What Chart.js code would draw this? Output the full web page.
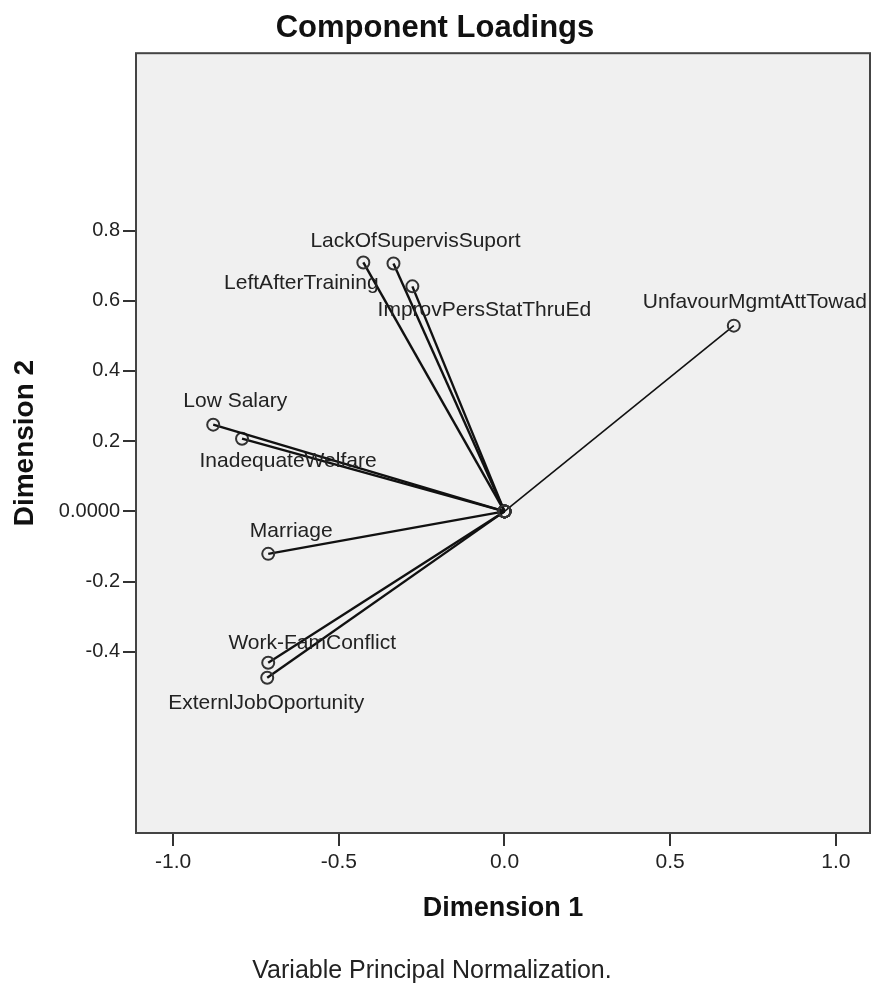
<!DOCTYPE html>
<html>
<head>
<meta charset="utf-8">
<script src="https://cdn.jsdelivr.net/npm/chart.js@4.4.0/dist/chart.umd.min.js"></script>
<style>
    html, body { margin: 0; padding: 0; background: #fff; }
    #wrap { width: 872px; height: 987px; }
</style>
</head>
<body>
<div id="wrap"><canvas id="loadingsChart" width="872" height="987"></canvas></div>
<script>
// Component loadings
const variables = [
    'LeftAfterTraining',
    'LackOfSupervisSuport',
    'ImprovPersStatThruEd',
    'UnfavourMgmtAttTowad',
    'Low Salary',
    'InadequateWelfare',
    'Marriage',
    'Work-FamConflict',
    'ExternlJobOportunity'
];
const dimension1 = [-0.426, -0.335, -0.278, 0.692, -0.879, -0.792, -0.713, -0.713, -0.716];
const dimension2 = [0.709, 0.706, 0.641, 0.529, 0.247, 0.207, -0.121, -0.431, -0.474];

const xTicks = [-1.0, -0.5, 0.0, 0.5, 1.0];
const xTickLabels = ['-1.0', '-0.5', '0.0', '0.5', '1.0'];
const yTicks = [-0.4, -0.2, 0.0, 0.2, 0.4, 0.6, 0.8];
const yTickLabels = ['-0.4', '-0.2', '0.0000', '0.2', '0.4', '0.6', '0.8'];

// where each variable name sits, in pixels from its point (label centre)
const labelOffsets = [
    [-62, 21],
    [22, -22],
    [72, 24],
    [21, -23],
    [22, -23],
    [46, 22],
    [23, -23],
    [44, -20],
    [-1, 25]
];

const FONT = "'Liberation Sans', Arial, sans-serif";

const datasets = variables.map((name, i) => ({
    label: name,
    data: [{ x: 0, y: 0 }, { x: dimension1[i], y: dimension2[i] }],
    showLine: true,
    borderColor: '#111',
    borderWidth: name === 'UnfavourMgmtAttTowad' ? 1.6 : 2.4,
    pointRadius: 6,
    pointHoverRadius: 6,
    pointBorderWidth: 2,
    pointBorderColor: '#333',
    pointBackgroundColor: 'rgba(0,0,0,0)'
}));

const plotFrame = {
    id: 'plotFrame',
    beforeDraw(chart) {
        const { ctx, chartArea: a } = chart;
        ctx.save();
        ctx.fillStyle = '#f0f0f0';
        ctx.fillRect(a.left, a.top, a.right - a.left, a.bottom - a.top);
        ctx.restore();
    },
    beforeDatasetsDraw(chart) {
        const { ctx, chartArea: a } = chart;
        ctx.save();
        ctx.strokeStyle = '#444';
        ctx.lineWidth = 2;
        ctx.strokeRect(a.left, a.top, a.right - a.left, a.bottom - a.top);
        ctx.restore();
    }
};

const pointLabels = {
    id: 'pointLabels',
    afterDatasetsDraw(chart) {
        const { ctx, scales } = chart;
        ctx.save();
        ctx.font = '21px ' + FONT;
        ctx.fillStyle = '#222';
        ctx.textAlign = 'center';
        ctx.textBaseline = 'middle';
        variables.forEach((name, i) => {
            const px = scales.x.getPixelForValue(dimension1[i]) + labelOffsets[i][0];
            const py = scales.y.getPixelForValue(dimension2[i]) + labelOffsets[i][1];
            ctx.fillText(name, px, py);
        });
        ctx.restore();
    }
};

const footnote = {
    id: 'footnote',
    afterDraw(chart) {
        const ctx = chart.ctx;
        ctx.save();
        ctx.font = '25px ' + FONT;
        ctx.fillStyle = '#222';
        ctx.textAlign = 'center';
        ctx.textBaseline = 'middle';
        ctx.fillText('Variable Principal Normalization.', 432, 971);
        ctx.restore();
    }
};

const ctx = document.getElementById('loadingsChart').getContext('2d');
const loadingsChart = new Chart(ctx, {
    type: 'scatter',
    data: { datasets: datasets },
    plugins: [plotFrame, pointLabels, footnote],
    options: {
        responsive: false,
        animation: false,
        layout: { autoPadding: false, padding: { top: 0, right: 2, bottom: 0, left: 0 } },
        plugins: {
            legend: { display: false },
            tooltip: { enabled: false },
            title: {
                display: true,
                text: 'Component Loadings',
                color: '#111',
                font: { family: FONT, size: 31, weight: 'bold' },
                padding: { top: 10, bottom: 6 }
            }
        },
        scales: {
            x: {
                type: 'linear',
                min: -1.112,
                max: 1.103,
                afterBuildTicks: (scale) => { scale.ticks = xTicks.map(v => ({ value: v })); },
                afterFit: (scale) => { scale.height = 154; },
                border: { display: false },
                grid: { drawOnChartArea: false, drawTicks: true, tickLength: 13, color: '#333', lineWidth: 2 },
                ticks: {
                    padding: 4,
                    color: '#222',
                    font: { family: FONT, size: 21 },
                    callback: (v) => xTickLabels[xTicks.indexOf(v)]
                },
                title: {
                    display: true,
                    text: 'Dimension 1',
                    color: '#111',
                    font: { family: FONT, size: 27, weight: 'bold' },
                    padding: { top: 0, bottom: 62 }
                }
            },
            y: {
                type: 'linear',
                min: -0.916,
                max: 1.305,
                afterBuildTicks: (scale) => { scale.ticks = yTicks.map(v => ({ value: v })); },
                afterFit: (scale) => { scale.width = 136; },
                border: { display: false },
                grid: { drawOnChartArea: false, drawTicks: true, tickLength: 13, color: '#333', lineWidth: 2 },
                ticks: {
                    padding: 3,
                    color: '#222',
                    font: { family: FONT, size: 20 },
                    callback: (v) => yTickLabels[yTicks.indexOf(v)]
                },
                title: {
                    display: true,
                    text: 'Dimension 2',
                    color: '#111',
                    font: { family: FONT, size: 28, weight: 'bold' },
                    padding: { top: 8, bottom: 0 }
                }
            }
        }
    }
});
</script>
</body>
</html>
